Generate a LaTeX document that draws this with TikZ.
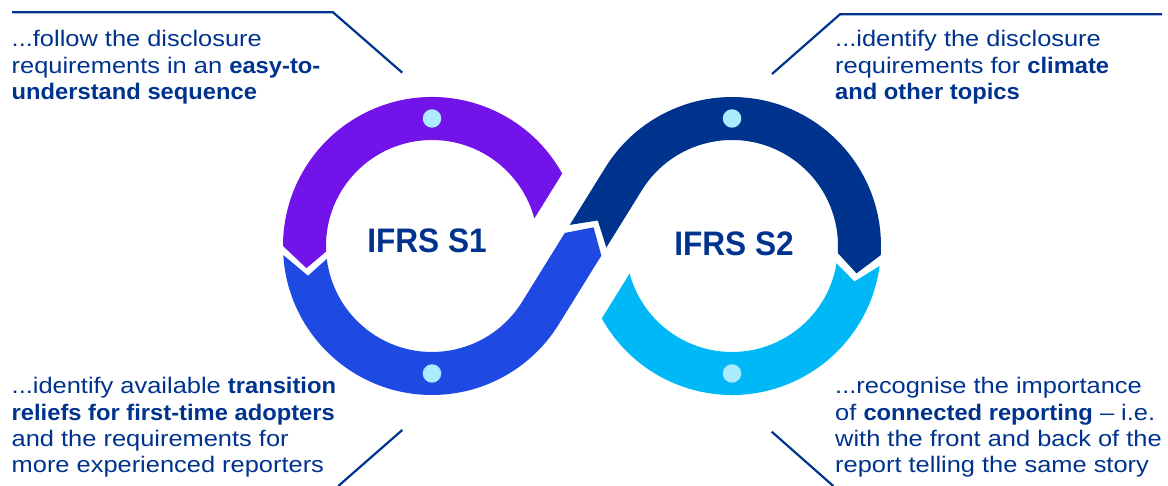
\documentclass[tikz,border=0pt]{standalone}
\usepackage{fontspec}
\setmainfont{Liberation Sans}[UprightFeatures={FakeStretch=1.13},BoldFeatures={FakeStretch=1.055}]
\newfontfamily\titrefont{Liberation Sans}[BoldFeatures={FakeStretch=0.93}]
\usepackage{tikz}
\usetikzlibrary{calc}
\definecolor{pourpre}{HTML}{7213EA}
\definecolor{cobalt}{HTML}{1E49E2}
\definecolor{marine}{HTML}{00338D}
\definecolor{ciel}{HTML}{00B8F5}
\definecolor{pastel}{HTML}{ACEAFF}

\tikzset{
  texte/.style={anchor=north west, inner sep=0pt, align=left, text=marine,
    font=\fontsize{22.5}{26.3}\selectfont},
  titre/.style={text=marine, inner sep=0pt, font=\titrefont\bfseries\fontsize{34}{34}\selectfont},
  trait/.style={draw=marine, line width=2.2pt},
  point/.style={fill=pastel, circle, inner sep=0pt, minimum size=18.5pt},
}

\begin{document}
\begin{tikzpicture}[x=1pt,y=1pt]
  \useasboundingbox (0,0) rectangle (1168,486);
  \coordinate (c1) at (432,240);
  \coordinate (c2) at (732,240);
  \coordinate (m) at (582,240);

  % Haut gauche.
  \path[fill=pourpre] ($(c1)+(29.09:149)$) arc[start angle=29.09, end angle=180, radius=149]
    -- ($(c1)+(190:127.5)$) -- ($(c1)+(183:106)$)
    arc[start angle=183, end angle=15.05, radius=106] -- cycle;
  % Bas gauche, jusqu'au croisement.
  \path[fill=cobalt] ($(c1)+(183.5:149)$) arc[start angle=183.5, end angle=328.21, radius=149]
    -- ($(m)+(-31.79:21.5)+(58.21:2)$) -- ($(m)+(58.21:22)$)
    -- ($(m)+(148.21:21.5)+(58.21:2)$) -- ($(c1)+(328.21:106)$)
    arc[start angle=328.21, end angle=187, radius=106]
    -- ($(c1)+(193.5:127.5)$) -- cycle;
  % Haut droite.
  \path[fill=marine] ($(m)+(148.21:21.5)+(58.21:11.5)$) -- ($(m)+(58.21:30)$)
    -- ($(m)+(-31.79:21.5)+(58.21:11.5)$) -- ($(c2)+(148.21:106)$)
    arc[start angle=148.21, end angle=-3.8, radius=106]
    -- ($(c2)+(-12.4:127.5)$) -- ($(c2)+(-3.5:149)$)
    arc[start angle=-3.5, end angle=148.21, radius=149] -- cycle;
  % Bas droite.
  \path[fill=ciel] ($(c2)+(-7.7:149)$) -- ($(c2)+(-16.2:127.5)$) -- ($(c2)+(-9.4:106)$)
    arc[start angle=-9.4, end angle=-164.95, radius=106]
    -- ($(c2)+(-150.91:149)$) arc[start angle=-150.91, end angle=-7.7, radius=149] -- cycle;

  % Points.
  \node[point] (p1) at ($(c1)+(0,127.5)$) {};
  \node[point] (p2) at ($(c1)+(0,-127.5)$) {};
  \node[point] (p3) at ($(c2)+(0,127.5)$) {};
  \node[point] (p4) at ($(c2)+(0,-127.5)$) {};

  \node[titre] (s1) at (427,245) {IFRS S1};
  \node[titre] (s2) at (734,242.5) {IFRS S2};

  % Textes.
  \node[texte] (t1) at (11.5,455.5) {...follow the disclosure\\
    requirements in an \textbf{easy-to-}\\ \textbf{understand sequence}};
  \node[texte] (t2) at (835,455.5) {...identify the disclosure\\
    requirements for \textbf{climate}\\ \textbf{and other topics}};
  \node[texte] (t3) at (11.5,108.5) {...identify available \textbf{transition}\\
    \textbf{reliefs for first-time adopters}\\ and the requirements for\\
    more experienced reporters};
  \node[texte] (t4) at (835,108.5) {...recognise the importance\\
    of \textbf{connected reporting} – i.e.\\ with the front and back of the\\
    report telling the same story};

  % Traits.
  \coordinate (a1) at (12,473.7);
  \coordinate (a2) at (333,473.7);
  \coordinate (a3) at (402.3,413.3);
  \draw[trait] (a1) -- (a2) -- (a3);
  \coordinate (b1) at (1162,471.7);
  \coordinate (b2) at (840,471.7);
  \coordinate (b3) at (772,412);
  \draw[trait] (b1) -- (b2) -- (b3);
  \coordinate (d1) at (402.3,56);
  \coordinate (d2) at (338.3,0);
  \draw[trait] (d1) -- (d2);
  \coordinate (e1) at (771.7,54.3);
  \coordinate (e2) at (833.3,0);
  \draw[trait] (e1) -- (e2);
\end{tikzpicture}
\end{document}
